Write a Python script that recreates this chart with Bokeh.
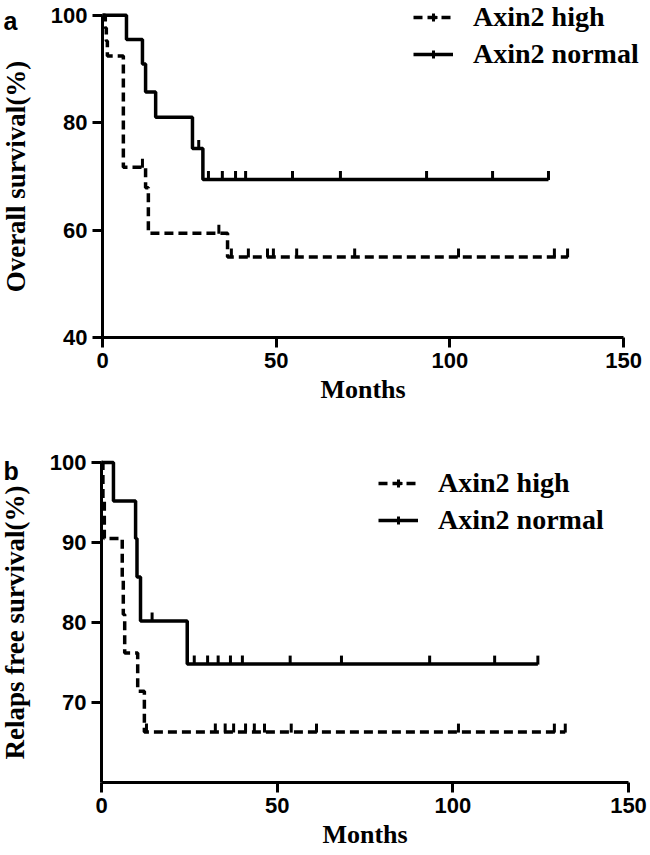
import numpy as np
from bokeh.plotting import figure
from bokeh.models import Legend, LegendItem, Label, FixedTicker, Range1d, ColumnDataSource
from bokeh.layouts import column
from bokeh.embed import file_html
from bokeh.resources import INLINE

# ---------------- data ----------------
# panel a: overall survival
os_high_t = [0, 0.8, 1.1, 1.4, 6.0, 12.4, 13.2, 36.0, 134.0]
os_high_s = [100, 97.6, 95.2, 92.4, 71.7, 67.9, 59.4, 55.0, 55.0]
os_high_cens = [11.5, 33.5, 37.1, 42.0, 47.5, 49.2, 55.9, 72.6, 102.5, 130.1, 133.9]

os_norm_t = [0, 6.9, 11.5, 12.4, 15.3, 25.9, 28.9, 128.4]
os_norm_s = [100, 95.5, 90.9, 85.7, 81.0, 75.2, 69.4, 69.4]
os_norm_cens = [27.7, 30.5, 34.5, 38.3, 41.2, 54.7, 68.5, 93.3, 112.3, 128.4]

# panel b: relapse free survival
rfs_high_t = [0, 0.4, 0.8, 5.9, 6.2, 6.6, 10.3, 12.2, 132.0]
rfs_high_s = [100, 95.2, 90.5, 85.7, 81.0, 76.2, 71.4, 66.3, 66.3]
rfs_high_cens = [12.8, 32.4, 35.2, 37.6, 41.0, 43.5, 46.4, 54.0, 61.2, 101.6, 128.9, 132.0]

rfs_norm_t = [0, 3.4, 9.7, 10.1, 11.1, 24.4, 124.2]
rfs_norm_s = [100, 95.2, 90.5, 85.7, 80.2, 74.8, 74.8]
rfs_norm_cens = [14.4, 26.4, 30.2, 33.2, 36.7, 40.1, 53.7, 68.3, 93.4, 111.9, 124.2]

x_ticks = [0, 50, 100, 150]
a_y_ticks = [40, 60, 80, 100]
b_y_ticks = [70, 80, 90, 100]
series_labels = ["Axin2 high", "Axin2 normal"]
panel_letters = ["a", "b"]
y_titles = ["Overall survival(%)", "Relaps free survival(%)"]
x_title = "Months"

SERIF = "Liberation Serif"
SANS = "Liberation Sans"


def level_at(times, surv, t):
    idx = np.searchsorted(np.asarray(times), t, side="right") - 1
    return np.asarray(surv)[idx]


def make_panel(width, height, xr, yr, y_lo, y_ticks, curves, y_title, tick_offset,
               legend_loc, letter, letter_xy):
    p = figure(width=width, height=height, output_backend="svg", toolbar_location=None,
               x_range=Range1d(*xr), y_range=Range1d(*yr),
               min_border=0, min_border_left=0, min_border_right=0,
               min_border_top=0, min_border_bottom=0)
    p.outline_line_color = None
    p.grid.visible = False
    p.background_fill_color = "white"
    p.border_fill_color = "white"

    items = []
    for (t, s, cens, dash, label) in curves:
        r = p.step(x=t, y=s, mode="after", line_color="black", line_width=3.5,
                   line_dash=dash)
        cy = level_at(t, s, cens) + tick_offset
        src = ColumnDataSource(dict(x=cens, y=cy))
        p.scatter(x="x", y="y", source=src, marker="dash", angle=np.pi / 2, size=9,
                  line_color="black", line_width=3)
        # legend-only proxy: a single NaN point is never drawn in the plot
        proxy = p.scatter(x=[np.nan], y=[np.nan], marker="cross", line_color="black",
                          line_width=3)
        items.append(LegendItem(label=label, renderers=[r, proxy]))

    leg = Legend(items=items, location=legend_loc, glyph_width=40, glyph_height=20,
                 label_height=20, label_standoff=20, spacing=5, padding=0, margin=0,
                 border_line_color=None, background_fill_alpha=0,
                 label_text_font=SERIF, label_text_font_style="bold",
                 label_text_font_size="28px", label_text_color="black")
    p.add_layout(leg)

    p.xaxis.ticker = FixedTicker(ticks=x_ticks)
    p.yaxis.ticker = FixedTicker(ticks=y_ticks)
    p.xaxis.fixed_location = y_lo
    p.yaxis.fixed_location = 0
    p.xaxis.bounds = (0, 150)
    p.yaxis.bounds = (y_lo, 100)
    for ax in (p.xaxis, p.yaxis):
        ax.axis_line_width = 3
        ax.major_tick_line_width = 3
        ax.major_tick_out = 10
        ax.major_tick_in = 0
        ax.minor_tick_line_color = None
        ax.major_label_text_font = SANS
        ax.major_label_text_font_style = "bold"
        ax.major_label_text_font_size = "22px"
        ax.major_label_text_color = "black"
        ax.axis_label_text_font = SERIF
        ax.axis_label_text_font_style = "bold"
        ax.axis_label_text_color = "black"
    p.xaxis.axis_label = x_title
    p.xaxis.axis_label_text_font_size = "26px"
    p.xaxis.major_label_standoff = 5
    p.xaxis.axis_label_standoff = 4
    p.yaxis.axis_label = y_title
    p.yaxis.axis_label_text_font_size = "27px"
    p.yaxis.major_label_standoff = 5
    p.yaxis.axis_label_standoff = 17

    p.add_layout(Label(x=letter_xy[0], y=letter_xy[1], text=letter, text_font=SANS,
                       text_font_style="bold", text_font_size="25px", text_color="black",
                       text_align="left", text_baseline="alphabetic"))
    return p


# panel a: 0 -> x=102px, 150 -> x=623px; 100 -> y=14.7px, 40 -> y=337px (canvas 650x420)
pa = make_panel(650, 420, (-29.37, 157.77), (24.55, 102.74), 40, a_y_ticks,
                [(os_high_t, os_high_s, os_high_cens, "9 5", series_labels[0]),
                 (os_norm_t, os_norm_s, os_norm_cens, "solid", series_labels[1])],
                y_titles[0], 0.75, (413, 350), panel_letters[0], (-28.5, 99.0))

# panel b: 0 -> x=101px, 150 -> x=628px; 100 -> y=42px, 60 -> y=362px (canvas 650x435)
pb = make_panel(650, 435, (-28.75, 156.26), (50.875, 105.25), 60, b_y_ticks,
                [(rfs_high_t, rfs_high_s, rfs_high_cens, "9 5", series_labels[0]),
                 (rfs_norm_t, rfs_norm_s, rfs_norm_cens, "solid", series_labels[1])],
                y_titles[1], 0.5, (378, 319), panel_letters[1], (-27.9, 99.0))

layout = column(pa, pb, spacing=0)
open("out.html", "w").write(file_html(layout, INLINE))
